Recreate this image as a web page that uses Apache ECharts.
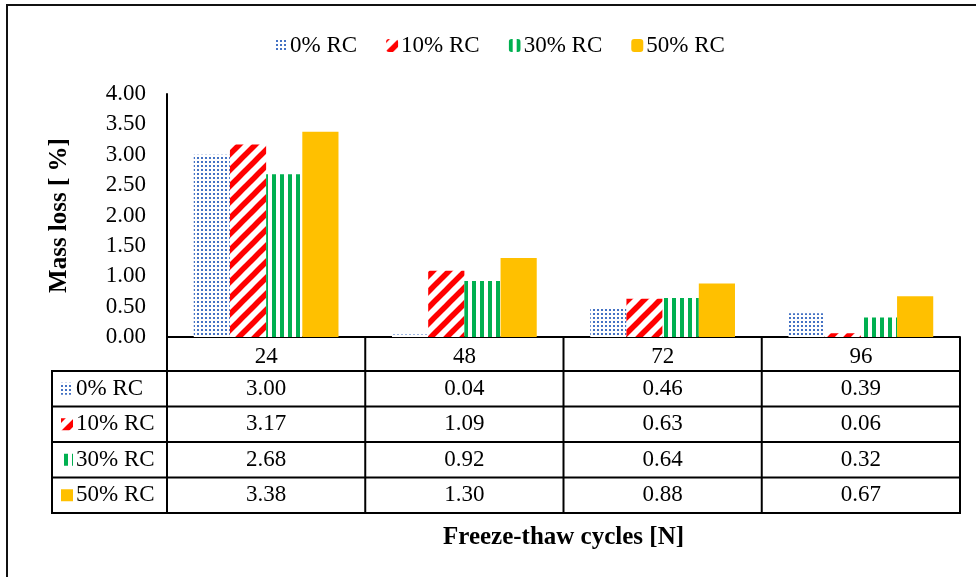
<!DOCTYPE html>
<html>
<head>
<meta charset="utf-8">
<script src="https://cdn.jsdelivr.net/npm/echarts@6/dist/echarts.min.js"></script>
<style>
html,body{margin:0;padding:0;background:#fff;}
#main{width:976px;height:577px;}
</style>
</head>
<body>
<div id="main"></div>
<script>
// ---- data ----
const categories = ['24', '48', '72', '96'];
const seriesNames = ['0% RC', '10% RC', '30% RC', '50% RC'];
const rc0 = [3.00, 0.04, 0.46, 0.39];
const rc10 = [3.17, 1.09, 0.63, 0.06];
const rc30 = [2.68, 0.92, 0.64, 0.32];
const rc50 = [3.38, 1.30, 0.88, 0.67];
const seriesValues = [rc0, rc10, rc30, rc50];
const yTitle = 'Mass loss [ %]';
const xTitle = 'Freeze-thaw cycles [N]';

// ---- patterns ----
function makeTile(w, h, draw) {
  const c = document.createElement('canvas');
  c.width = w; c.height = h;
  const ctx = c.getContext('2d');
  ctx.fillStyle = '#fff';
  ctx.fillRect(0, 0, w, h);
  draw(ctx, w, h);
  return c;
}
const dotTile = makeTile(4, 4, (ctx) => {
  ctx.fillStyle = '#4472C4';
  ctx.fillRect(1, 1, 2, 2);
});
const stripeTile = makeTile(16, 16, (ctx, w, h) => {
  ctx.strokeStyle = '#FF0000';
  ctx.lineWidth = 5.5;
  for (const off of [-16, 0, 16]) {
    ctx.beginPath();
    ctx.moveTo(off - 2, h + 2);
    ctx.lineTo(off + w + 2, -2);
    ctx.stroke();
  }
});
const vstripeTile = makeTile(8, 8, (ctx) => {
  ctx.fillStyle = '#00B050';
  ctx.fillRect(0, 0, 4, 8);
});
const fills = [
  { image: dotTile, repeat: 'repeat' },
  { image: stripeTile, repeat: 'repeat' },
  { image: vstripeTile, repeat: 'repeat' },
  '#FFC000'
];

const FONT = '"Liberation Serif", "Times New Roman", serif';
const FS = 23;
const chart = echarts.init(document.getElementById('main'), null, { renderer: 'canvas' });

const option = {
  animation: false,
  backgroundColor: '#fff',
  textStyle: { fontFamily: FONT, color: '#000' },
  legend: {
    data: seriesNames,
    top: 29,
    left: 270,
    itemWidth: 12,
    itemHeight: 13,
    itemGap: 29,
    textStyle: { fontFamily: FONT, fontSize: FS, color: '#000', padding: [0, 0, 0, -2] }
  },
  grid: { left: 167, right: 16, top: 94, bottom: 240, containLabel: false },
  xAxis: {
    type: 'category',
    data: categories,
    name: xTitle,
    nameLocation: 'middle',
    nameGap: 188,
    nameTextStyle: { fontFamily: FONT, fontSize: 25, fontWeight: 'bold', color: '#000' },
    axisLine: { lineStyle: { color: '#000', width: 2 } },
    axisTick: { show: false },
    axisLabel: { fontFamily: FONT, fontSize: FS, color: '#000', margin: 8 }
  },
  yAxis: {
    type: 'value',
    min: 0,
    max: 4,
    interval: 0.5,
    name: yTitle,
    nameLocation: 'middle',
    nameGap: 95,
    nameTextStyle: { fontFamily: FONT, fontSize: 25, fontWeight: 'bold', color: '#000' },
    axisLine: { show: true, lineStyle: { color: '#000', width: 2 } },
    axisTick: { show: false },
    splitLine: { show: false },
    axisLabel: { fontFamily: FONT, fontSize: FS, color: '#000', margin: 21,
      formatter: (v) => v.toFixed(2) }
  },
  series: seriesNames.map((n, i) => ({
    name: n,
    type: 'bar',
    data: seriesValues[i],
    barGap: '0%',
    barCategoryGap: '27%',
    itemStyle: { color: fills[i] }
  }))
};
chart.setOption(option);

// ---- data table under the x axis ----
function buildTable() {
  const c0 = chart.convertToPixel({ xAxisIndex: 0 }, 0);
  const c1 = chart.convertToPixel({ xAxisIndex: 0 }, 1);
  const band = c1 - c0;
  const left = c0 - band / 2;
  const right = left + band * categories.length;
  const yBase = chart.convertToPixel({ yAxisIndex: 0 }, 0);
  const headerH = 34;
  const rowH = 35.5;
  const tableLeft = 52;
  const bottom = yBase + headerH + rowH * seriesNames.length;
  const els = [];
  const line = (x1, y1, x2, y2) => els.push({
    type: 'line', silent: true,
    shape: { x1, y1, x2, y2 },
    style: { stroke: '#000', lineWidth: 2 }
  });
  for (let k = 0; k <= seriesNames.length; k++) {
    const y = yBase + headerH + k * rowH;
    line(tableLeft, y, right + 1, y);
  }
  for (let i = 0; i <= categories.length; i++) {
    const x = left + i * band;
    line(x, yBase, x, bottom);
  }
  line(tableLeft, yBase + headerH - 1, tableLeft, bottom + 1);
  seriesNames.forEach((n, r) => {
    const cy = yBase + headerH + r * rowH + rowH / 2;
    els.push({
      type: 'rect', silent: true,
      shape: { x: 61, y: cy - 6, width: 12, height: 12 },
      style: { fill: fills[r] }
    });
    els.push({
      type: 'text', silent: true,
      x: 76, y: cy,
      style: { text: n, fontFamily: FONT, fontSize: FS, fill: '#000',
        textAlign: 'left', textVerticalAlign: 'middle' }
    });
    seriesValues[r].forEach((v, i) => {
      els.push({
        type: 'text', silent: true,
        x: left + (i + 0.5) * band, y: cy,
        style: { text: v.toFixed(2), fontFamily: FONT, fontSize: FS, fill: '#000',
          textAlign: 'center', textVerticalAlign: 'middle' }
      });
    });
  });
  // outer frame
  els.push({
    type: 'rect', silent: true,
    shape: { x: 7, y: 5, width: 1200, height: 1000 },
    style: { fill: 'none', stroke: '#111', lineWidth: 2 }
  });
  chart.setOption({ graphic: { elements: els } });
}
buildTable();
</script>
</body>
</html>
